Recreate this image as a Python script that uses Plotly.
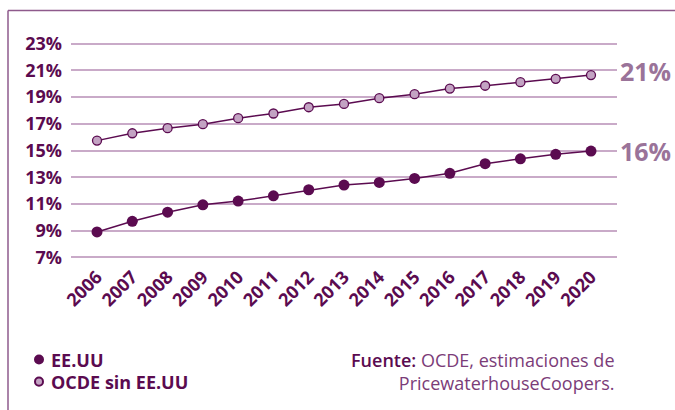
import plotly.graph_objects as go

# Series data (% values)
years = list(range(2006, 2021))
ee_uu = [8.90, 9.70, 10.38, 10.93, 11.21, 11.61, 12.06, 12.41, 12.61, 12.91,
         13.29, 14.01, 14.38, 14.71, 14.96]
ocde_sin_ee_uu = [15.74, 16.29, 16.67, 16.97, 17.42, 17.77, 18.24, 18.49, 18.92,
                  19.22, 19.64, 19.85, 20.12, 20.37, 20.65]
y_ticks = list(range(7, 24, 2))
y_tick_labels = [f"{v}%" for v in y_ticks]
series_names = ["EE.UU", "OCDE sin EE.UU"]
end_labels = ["16%", "21%"]

DARK = "#5b0b50"
LIGHT = "#c3a3c3"
GRID = "#c9aac8"
FRAME = "#8e5a8c"
LABEL = "#9a7399"
SOURCE = "#7b3c78"
FONT = "Open Sans"

W, H = 675, 410
L, R, T, B = 71, 58, 41.3, 150.3
PW, PH = W - L - R, H - T - B


def px_x(p):
    return (p - L) / PW


def px_y(p):
    return (H - B - p) / PH


fig = go.Figure()

fig.add_trace(go.Scatter(
    x=years, y=ocde_sin_ee_uu, mode="lines+markers", name=series_names[1],
    line=dict(color=DARK, width=1.5),
    marker=dict(size=9, color=LIGHT, line=dict(color=DARK, width=1.3)),
    showlegend=False,
))
fig.add_trace(go.Scatter(
    x=years, y=ee_uu, mode="lines+markers", name=series_names[0],
    line=dict(color=DARK, width=1.5),
    marker=dict(size=11, color=DARK),
    showlegend=False,
))

annotations = []
# End-of-line labels
for series, label, dy in [(ee_uu, end_labels[0], 0), (ocde_sin_ee_uu, end_labels[1], 4)]:
    annotations.append(dict(
        x=1, xref="paper", y=series[-1], yref="y", xanchor="left", yanchor="middle",
        xshift=1, yshift=dy, text=label, showarrow=False,
        font=dict(family=FONT, size=25, color=LABEL, weight=700),
    ))

# Legend entries
shapes = []
legend_rows = [(series_names[0], 359, DARK, DARK, 10), (series_names[1], 381, LIGHT, DARK, 8)]
for name, cy, fill, edge, d in legend_rows:
    r = d / 2
    shapes.append(dict(
        type="circle", xref="paper", yref="paper",
        x0=px_x(39 - r), x1=px_x(39 + r), y0=px_y(cy + r), y1=px_y(cy - r),
        fillcolor=fill, line=dict(color=edge, width=2 if fill != edge else 0),
    ))
    annotations.append(dict(
        x=px_x(49), xref="paper", y=px_y(cy), yref="paper",
        xanchor="left", yanchor="middle", text=name, showarrow=False,
        font=dict(family=FONT, size=18, color=DARK, weight=700),
    ))

# Source note
annotations.append(dict(
    x=px_x(617), xref="paper", y=px_y(345), yref="paper",
    xanchor="right", yanchor="top", align="right", showarrow=False,
    text=(f"<span style='color:{DARK};font-weight:600'>Fuente:</span> OCDE, estimaciones de"
          "<br>PricewaterhouseCoopers."),
    font=dict(family=FONT, size=18, color=SOURCE, weight=400),
))

# Frame along top and left edges
shapes.append(dict(type="line", xref="paper", yref="paper",
                   x0=px_x(8), x1=px_x(W + 5), y0=px_y(11), y1=px_y(11),
                   line=dict(color=FRAME, width=1.5)))
shapes.append(dict(type="line", xref="paper", yref="paper",
                   x0=px_x(8), x1=px_x(8), y0=px_y(11), y1=px_y(H + 5),
                   line=dict(color=FRAME, width=1.5)))

fig.update_layout(
    width=W, height=H,
    margin=dict(l=L, r=R, t=T, b=B, pad=0),
    paper_bgcolor="white", plot_bgcolor="white",
    showlegend=False,
    annotations=annotations,
    shapes=shapes,
    xaxis=dict(
        range=[2005.263, 2020.737], tickvals=years, ticktext=[str(y) for y in years],
        tickangle=-45, showgrid=False, zeroline=False, showline=False,
        ticks="", ticklabelstandoff=2,
        tickfont=dict(family=FONT, size=18, color=DARK, weight=700),
    ),
    yaxis=dict(
        range=[6.8, 23.2], tickvals=y_ticks, ticktext=y_tick_labels,
        showgrid=True, gridcolor=GRID, gridwidth=1.5, zeroline=False, showline=False,
        ticks="", ticklabelstandoff=8,
        tickfont=dict(family=FONT, size=18, color=DARK, weight=700),
    ),
)

fig.write_html("out.html")
